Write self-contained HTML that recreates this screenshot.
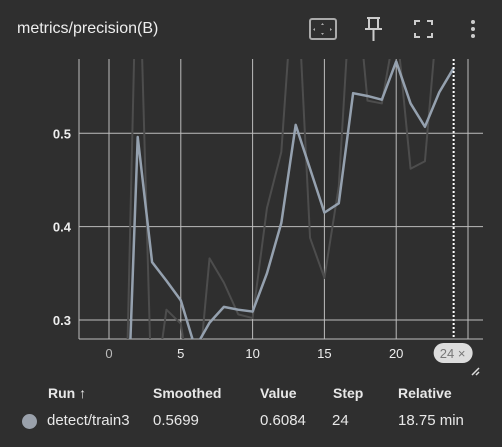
<!DOCTYPE html>
<html style="width:502px;height:447px;overflow:hidden"><head><meta charset="utf-8"><style>
body{margin:0;width:502px;height:447px;background:#2f2f2f;font-family:"Liberation Sans",sans-serif;color:#e8e8e8;overflow:hidden;position:relative}
.t{position:absolute;white-space:nowrap;line-height:18px}
</style></head><body>
<div class="t" style="left:17px;top:20px;font-size:16px;color:#eee">metrics/precision(B)</div>
<svg style="position:absolute;left:0;top:0" width="502" height="60">
<g><rect x="310" y="19" width="26" height="20" rx="2" fill="none" stroke="#aaa" stroke-width="2"/><path d="M321 25l1.5-2 1.5 2M321 33l1.5 2 1.5-2M315 28l-2 1.5 2 1.5M330 28l2 1.5-2 1.5" fill="#aaa" stroke="none"/></g>
<g fill="none" stroke="#ccc" stroke-width="2"><path d="M367 18h13M369 18v10M378 18v10M365 29h17M373.5 29v12"/></g>
<g fill="none" stroke="#ccc" stroke-width="2"><path d="M415 25v-4h5M427 21h5v4M432 33v4h-5M420 37h-5v-4"/></g>
<g fill="#ccc"><circle cx="473" cy="22" r="2"/><circle cx="473" cy="29" r="2"/><circle cx="473" cy="36" r="2"/></g>
</svg>
<svg id="chart" style="position:absolute;left:0;top:0" width="502" height="380"></svg>
<div class="t" style="left:48px;top:384px;font-size:14px;font-weight:bold">Run ↑</div>
<div class="t" style="left:153px;top:384px;font-size:14px;font-weight:bold">Smoothed</div>
<div class="t" style="left:260px;top:384px;font-size:14px;font-weight:bold">Value</div>
<div class="t" style="left:333px;top:384px;font-size:14px;font-weight:bold">Step</div>
<div class="t" style="left:398px;top:384px;font-size:14px;font-weight:bold">Relative</div>
<div style="position:absolute;left:22px;top:414px;width:15px;height:15px;border-radius:50%;background:#9aa1ab"></div>
<div class="t" style="left:47px;top:412px;font-size:15px">detect/train3</div>
<div class="t" style="left:153px;top:412px;font-size:15px">0.5699</div>
<div class="t" style="left:260px;top:412px;font-size:15px">0.6084</div>
<div class="t" style="left:332px;top:412px;font-size:15px">24</div>
<div class="t" style="left:398px;top:412px;font-size:15px">18.75 min</div>
<script>
const steps=[0,1,2,3,4,5,6,7,8,9,10,11,12,13,14,15,16,17,18,19,20,21,22,23,24];
const rawValues=[0.05,0.08,0.75,0.2,0.311,0.296,0.2,0.366,0.34,0.306,0.302,0.42,0.48,0.7,0.388,0.345,0.443,0.7,0.535,0.532,0.62,0.462,0.47,0.65,0.6084];
const smoothedValues=[0.05,0.07,0.496,0.362,0.342,0.321,0.27,0.297,0.314,0.311,0.309,0.35,0.404,0.509,0.462,0.415,0.425,0.543,0.54,0.536,0.577,0.532,0.507,0.544,0.5699];
const xTicks=[0,5,10,15,20];
const yTicks=[0.3,0.4,0.5];
const L=79,R=483,T=59,B=339;
const X=v=>109+v*14.36;
const Y=v=>133.3-(v-0.5)*933.3;
const svg=document.getElementById('chart');
const NS='http://www.w3.org/2000/svg';
function mk(tag,a){const e=document.createElementNS(NS,tag);for(const k in a)e.setAttribute(k,a[k]);svg.appendChild(e);return e;}
const defs=mk('defs',{});
const cp=document.createElementNS(NS,'clipPath');cp.setAttribute('id','c');
const cr=document.createElementNS(NS,'rect');cr.setAttribute('x',L);cr.setAttribute('y',T);cr.setAttribute('width',R-L);cr.setAttribute('height',B-T);
cp.appendChild(cr);defs.appendChild(cp);
[...xTicks,25].forEach(v=>{const l=mk('line',{x1:X(v),x2:X(v),y1:T,y2:B,stroke:'#bdbdbd','stroke-width':1});

});
yTicks.forEach(v=>{const l=mk('line',{x1:L,x2:R,y1:Y(v),y2:Y(v),stroke:'#bdbdbd','stroke-width':1});


const t=mk('text',{x:71,y:Y(v)+5,'text-anchor':'end',fill:'#eee','font-size':13,'font-weight':'bold','font-family':'Liberation Sans'});t.textContent=String(v);

});
mk('line',{x1:L,x2:R,y1:B,y2:B,stroke:'#bdbdbd','stroke-width':1});
mk('line',{x1:L,x2:L,y1:T,y2:B,stroke:'#bdbdbd','stroke-width':1});
xTicks.forEach(v=>{const t=mk('text',{x:X(v),y:358,'text-anchor':'middle',fill:v==0?'#bbb':'#eee','font-size':13,'font-family':'Liberation Sans'});t.textContent=v;

});
const g=mk('g',{'clip-path':'url(#c)'});
function line(vals,col,w,name){const p=document.createElementNS(NS,'polyline');
p.setAttribute('points',steps.map((s,i)=>X(s)+','+Y(vals[i])).join(' '));
p.setAttribute('fill','none');p.setAttribute('stroke',col);p.setAttribute('stroke-width',w);p.setAttribute('stroke-linejoin','round');


g.appendChild(p);}
line(rawValues,'#4d4d4d',2,'raw-series-line');
line(smoothedValues,'#95a1af',2.5,'smoothed-series-line');
const last=steps[steps.length-1];
const hv=mk('line',{x1:X(last),x2:X(last),y1:T,y2:B,stroke:'#fff','stroke-width':2,'stroke-dasharray':'2,2'});


const chip=mk('rect',{x:X(last)-20,y:343,width:39,height:20,rx:10,fill:'#ddd'});


const ct=mk('text',{x:X(last)-1,y:358,'text-anchor':'middle',fill:'#777','font-size':13,'font-family':'Liberation Sans'});ct.textContent=last+' ×';


const rs=mk('path',{d:'M472 375l7-7M476 375l3-3',stroke:'#ddd','stroke-width':1.5});


</script>
</body></html>
